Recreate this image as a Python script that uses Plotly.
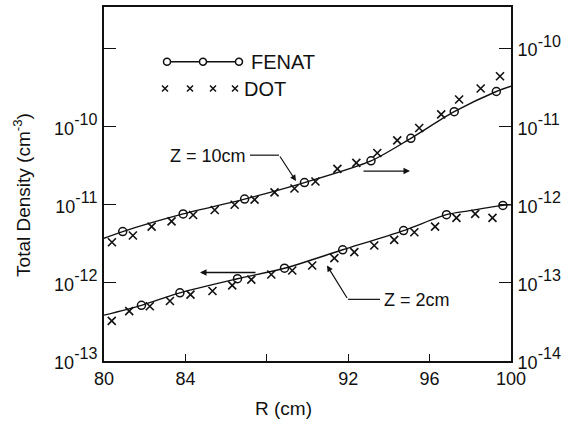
import plotly.graph_objects as go

# ---------------- data ----------------
# Z = 10 cm (right axis)
fenat10_curve_r = [80.0, 80.92, 83.89, 86.91, 89.85, 93.12, 95.08, 97.21, 99.28, 100.0]
fenat10_curve_n = [3.72e-13, 4.53e-13, 7.62e-13, 1.18e-12, 1.92e-12, 3.64e-12, 7.08e-12, 1.55e-11, 2.81e-11, 3.28e-11]
fenat10_pts_r = [80.92, 83.89, 86.91, 89.85, 93.12, 95.08, 97.21, 99.28]
fenat10_pts_n = [4.53e-13, 7.62e-13, 1.18e-12, 1.92e-12, 3.64e-12, 7.08e-12, 1.55e-11, 2.81e-11]
dot10_r = [80.39, 81.42, 82.34, 83.32, 84.38, 85.44, 86.42, 87.40, 88.38, 89.36,
           90.39, 91.47, 92.40, 93.43, 94.41, 95.49, 96.57, 97.45, 98.51, 99.46]
dot10_n = [3.31e-13, 4.03e-13, 5.25e-13, 6.12e-13, 7.39e-13, 8.55e-13, 1.0e-12, 1.16e-12, 1.44e-12, 1.61e-12,
           1.98e-12, 2.88e-12, 3.43e-12, 4.59e-12, 6.67e-12, 9.57e-12, 1.43e-11, 2.22e-11, 3.07e-11, 4.40e-11]

# Z = 2 cm (left axis)
fenat2_curve_r = [80.0, 81.84, 83.73, 86.56, 88.87, 91.73, 94.72, 96.83, 97.97, 99.6, 100.0]
fenat2_curve_n = [3.86e-13, 5.16e-13, 7.46e-13, 1.13e-12, 1.54e-12, 2.65e-12, 4.67e-12, 7.46e-12, 8.4e-12, 9.8e-12, 1.0e-11]
fenat2_pts_r = [81.84, 83.73, 86.56, 88.87, 91.73, 94.72, 96.83, 99.6]
fenat2_pts_n = [5.16e-13, 7.46e-13, 1.13e-12, 1.54e-12, 2.65e-12, 4.67e-12, 7.46e-12, 9.8e-12]
dot2_r = [80.38, 81.24, 82.25, 83.24, 84.25, 85.33, 86.30, 87.24, 88.22, 89.25,
          90.23, 91.32, 92.30, 93.28, 94.26, 95.25, 96.27, 97.32, 98.24, 99.09]
dot2_n = [3.26e-13, 4.34e-13, 5.02e-13, 5.86e-13, 7.08e-13, 7.87e-13, 9.29e-13, 1.10e-12, 1.28e-12, 1.44e-12,
          1.67e-12, 2.07e-12, 2.47e-12, 3.01e-12, 3.55e-12, 4.44e-12, 5.25e-12, 6.78e-12, 7.62e-12, 6.78e-12]

x_tickvals = [80, 84, 88, 92, 96, 100]
x_ticktext = ["80", "84", "", "92", "96", "100"]
yl_tickvals = [1e-13, 1e-12, 1e-11, 1e-10, 1e-9]
yl_exponents = ["-13", "-12", "-11", "-10", None]
yr_tickvals = [1e-14, 1e-13, 1e-12, 1e-11, 1e-10]
yr_exponents = ["-14", "-13", "-12", "-11", "-10"]

# ---------------- figure ----------------
W, H = 587, 424
ML, MR, MT, MB = 104, 76, 5, 63
PW, PH = W - ML - MR, H - MT - MB
FONT = "Liberation Sans, Arial, Helvetica, sans-serif"
BLACK = "#111111"


def px(x):
    return (x - ML) / PW


def py(y):
    return (MT + PH - y) / PH


def pow_label(e):
    if e is None:
        return ""
    return "<span style='font-size:18px'>10</span><sup>" + e + "</sup>"


line_style = dict(color=BLACK, width=1.4, shape="spline", smoothing=0.8)
circle_style = dict(symbol="circle-open", size=8, color=BLACK, line=dict(width=1.5, color=BLACK))
cross_style = dict(symbol="x-thin-open", size=8, color=BLACK, line=dict(width=1.6, color=BLACK))

fig = go.Figure()
# Z = 2 cm on left axis
fig.add_trace(go.Scatter(x=fenat2_curve_r, y=fenat2_curve_n, mode="lines", line=line_style, yaxis="y", showlegend=False))
fig.add_trace(go.Scatter(x=fenat2_pts_r, y=fenat2_pts_n, mode="markers", marker=circle_style, yaxis="y", showlegend=False))
fig.add_trace(go.Scatter(x=dot2_r, y=dot2_n, mode="markers", marker=cross_style, yaxis="y", showlegend=False))
# Z = 10 cm on right axis
fig.add_trace(go.Scatter(x=fenat10_curve_r, y=fenat10_curve_n, mode="lines", line=line_style, yaxis="y2", showlegend=False))
fig.add_trace(go.Scatter(x=fenat10_pts_r, y=fenat10_pts_n, mode="markers", marker=circle_style, yaxis="y2", showlegend=False))
fig.add_trace(go.Scatter(x=dot10_r, y=dot10_n, mode="markers", marker=cross_style, yaxis="y2", showlegend=False))

axis_common = dict(showgrid=False, zeroline=False, showline=True, linecolor=BLACK, linewidth=2,
                   ticks="inside", tickcolor=BLACK)
yfont = dict(family=FONT, size=23, color=BLACK)

fig.update_layout(
    width=W, height=H,
    margin=dict(l=ML, r=MR, t=MT, b=MB),
    paper_bgcolor="white", plot_bgcolor="white",
    font=dict(family=FONT, size=17, color=BLACK),
    xaxis=dict(**axis_common, range=[80, 100], tickvals=x_tickvals, ticktext=x_ticktext,
               tickfont=dict(family=FONT, size=18, color=BLACK),
               ticklen=7, tickwidth=1.2, mirror=True),
    yaxis=dict(**axis_common, type="log", range=[-13, -8.47], tickvals=yl_tickvals, tickfont=yfont,
               ticktext=[pow_label(e) for e in yl_exponents], ticklen=12, tickwidth=1.2),
    yaxis2=dict(**axis_common, type="log", range=[-14, -9.47], tickvals=yr_tickvals, tickfont=yfont,
                ticktext=[pow_label(e) for e in yr_exponents],
                ticklen=12, tickwidth=1.2, overlaying="y", side="right"),
    showlegend=False,
)

TITLE = dict(family=FONT, size=19, color=BLACK)
ann = []
shapes = []
# axis titles
ann.append(dict(text="R (cm)", xref="paper", yref="paper", x=px(283), y=py(409), xanchor="center",
                yanchor="middle", showarrow=False, font=TITLE))
ann.append(dict(text="Total Density (cm<sup>-3</sup>)", xref="paper",
                yref="paper", x=px(22), y=py(194),
                xanchor="center", yanchor="middle", textangle=-90, showarrow=False, font=TITLE))

# legend (drawn manually)
shapes.append(dict(type="line", xref="paper", yref="paper", x0=px(167), x1=px(239), y0=py(60), y1=py(60),
                   line=dict(color=BLACK, width=1.4)))
for cx in (167, 203, 239):
    shapes.append(dict(type="circle", xref="paper", yref="paper", xsizemode="pixel", ysizemode="pixel",
                       xanchor=px(cx), yanchor=py(60), x0=-3.5, x1=3.5, y0=-3.5, y1=3.5,
                       line=dict(color=BLACK, width=1.5), fillcolor="white"))
for cx in (165, 190, 213, 235):
    shapes.append(dict(type="path", xref="paper", yref="paper", xsizemode="pixel", ysizemode="pixel",
                       xanchor=px(cx), yanchor=py(87), path="M-3,-3L3,3M-3,3L3,-3",
                       line=dict(color=BLACK, width=1.5)))
ann.append(dict(text="FENAT", xref="paper", yref="paper", x=px(249), y=py(60), xanchor="left",
                yanchor="middle", showarrow=False, font=dict(family=FONT, size=20, color=BLACK)))
ann.append(dict(text="DOT", xref="paper", yref="paper", x=px(242), y=py(87), xanchor="left",
                yanchor="middle", showarrow=False, font=dict(family=FONT, size=20, color=BLACK)))

# Z = 10cm label with leader
ann.append(dict(text="Z = 10cm", xref="paper", yref="paper", x=px(248), y=py(155), xanchor="right",
                yanchor="middle", showarrow=False, font=dict(family=FONT, size=18, color=BLACK)))
shapes.append(dict(type="line", xref="paper", yref="paper", x0=px(250), x1=px(279), y0=py(154), y1=py(154),
                   line=dict(color=BLACK, width=1.2)))
ann.append(dict(text="", xref="paper", yref="paper", x=px(296), y=py(180), ax=-17, ay=-26,
                showarrow=True, arrowhead=2, arrowsize=1, arrowwidth=1.2, arrowcolor=BLACK))
# right-pointing arrow (Z=10 -> right axis)
ann.append(dict(text="", xref="paper", yref="paper", x=px(410), y=py(170), ax=-48, ay=0,
                showarrow=True, arrowhead=2, arrowsize=1, arrowwidth=1.3, arrowcolor=BLACK))
# left-pointing arrow (Z=2 -> left axis)
ann.append(dict(text="", xref="paper", yref="paper", x=px(200), y=py(272), ax=57, ay=0,
                showarrow=True, arrowhead=2, arrowsize=1, arrowwidth=1.3, arrowcolor=BLACK))
# Z = 2cm label with leader
ann.append(dict(text="Z = 2cm", xref="paper", yref="paper", x=px(382), y=py(300), xanchor="left",
                yanchor="middle", showarrow=False, font=dict(family=FONT, size=18, color=BLACK)))
shapes.append(dict(type="line", xref="paper", yref="paper", x0=px(348), x1=px(380), y0=py(299), y1=py(299),
                   line=dict(color=BLACK, width=1.2)))
ann.append(dict(text="", xref="paper", yref="paper", x=px(327), y=py(265), ax=21, ay=34,
                showarrow=True, arrowhead=2, arrowsize=1, arrowwidth=1.2, arrowcolor=BLACK))

fig.update_layout(annotations=ann, shapes=shapes)
fig.write_html("out.html")
